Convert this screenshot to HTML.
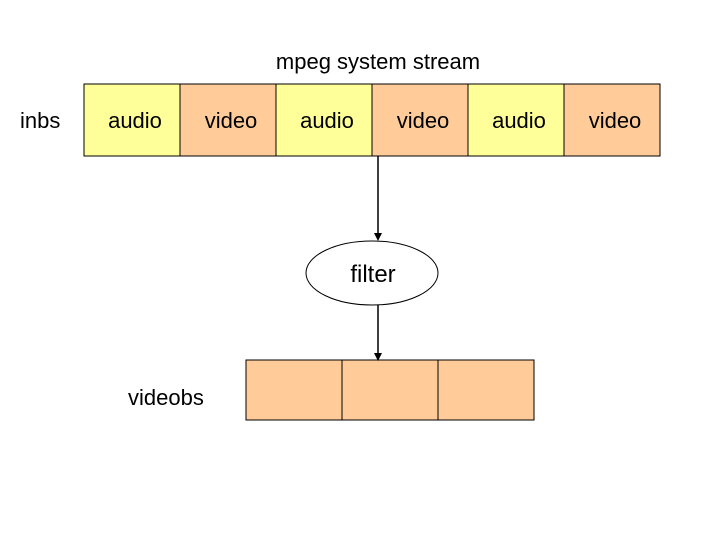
<!DOCTYPE html>
<html><head><style>body{margin:0;background:#fff}</style></head><body>
<svg width="720" height="540" xmlns="http://www.w3.org/2000/svg" font-family="Liberation Sans, Arial, sans-serif" font-size="22">
<rect width="720" height="540" fill="#fff"/>
<g stroke="#000" stroke-width="1">
<rect x="84" y="84" width="96" height="72" fill="#FFFF99"/>
<rect x="180" y="84" width="96" height="72" fill="#FFCC99"/>
<rect x="276" y="84" width="96" height="72" fill="#FFFF99"/>
<rect x="372" y="84" width="96" height="72" fill="#FFCC99"/>
<rect x="468" y="84" width="96" height="72" fill="#FFFF99"/>
<rect x="564" y="84" width="96" height="72" fill="#FFCC99"/>
<rect x="246" y="360" width="96" height="60" fill="#FFCC99"/>
<rect x="342" y="360" width="96" height="60" fill="#FFCC99"/>
<rect x="438" y="360" width="96" height="60" fill="#FFCC99"/>
<ellipse cx="372" cy="273" rx="66" ry="32" fill="#fff"/>
</g>
<g stroke="#000" stroke-width="1.5">
<line x1="378" y1="156" x2="378" y2="234"/>
<line x1="378" y1="305" x2="378" y2="354"/>
</g>
<polygon points="374,233 382,233 378,241" fill="#000"/>
<polygon points="374,353 382,353 378,361" fill="#000"/>
<text x="378" y="69" text-anchor="middle">mpeg system stream</text>
<text x="20" y="128">inbs</text>
<text x="135" y="128" text-anchor="middle">audio</text>
<text x="231" y="128" text-anchor="middle">video</text>
<text x="327" y="128" text-anchor="middle">audio</text>
<text x="423" y="128" text-anchor="middle">video</text>
<text x="519" y="128" text-anchor="middle">audio</text>
<text x="615" y="128" text-anchor="middle">video</text>
<text x="373" y="282" text-anchor="middle" font-size="24">filter</text>
<text x="128" y="405">videobs</text>
</svg>
</body></html>
